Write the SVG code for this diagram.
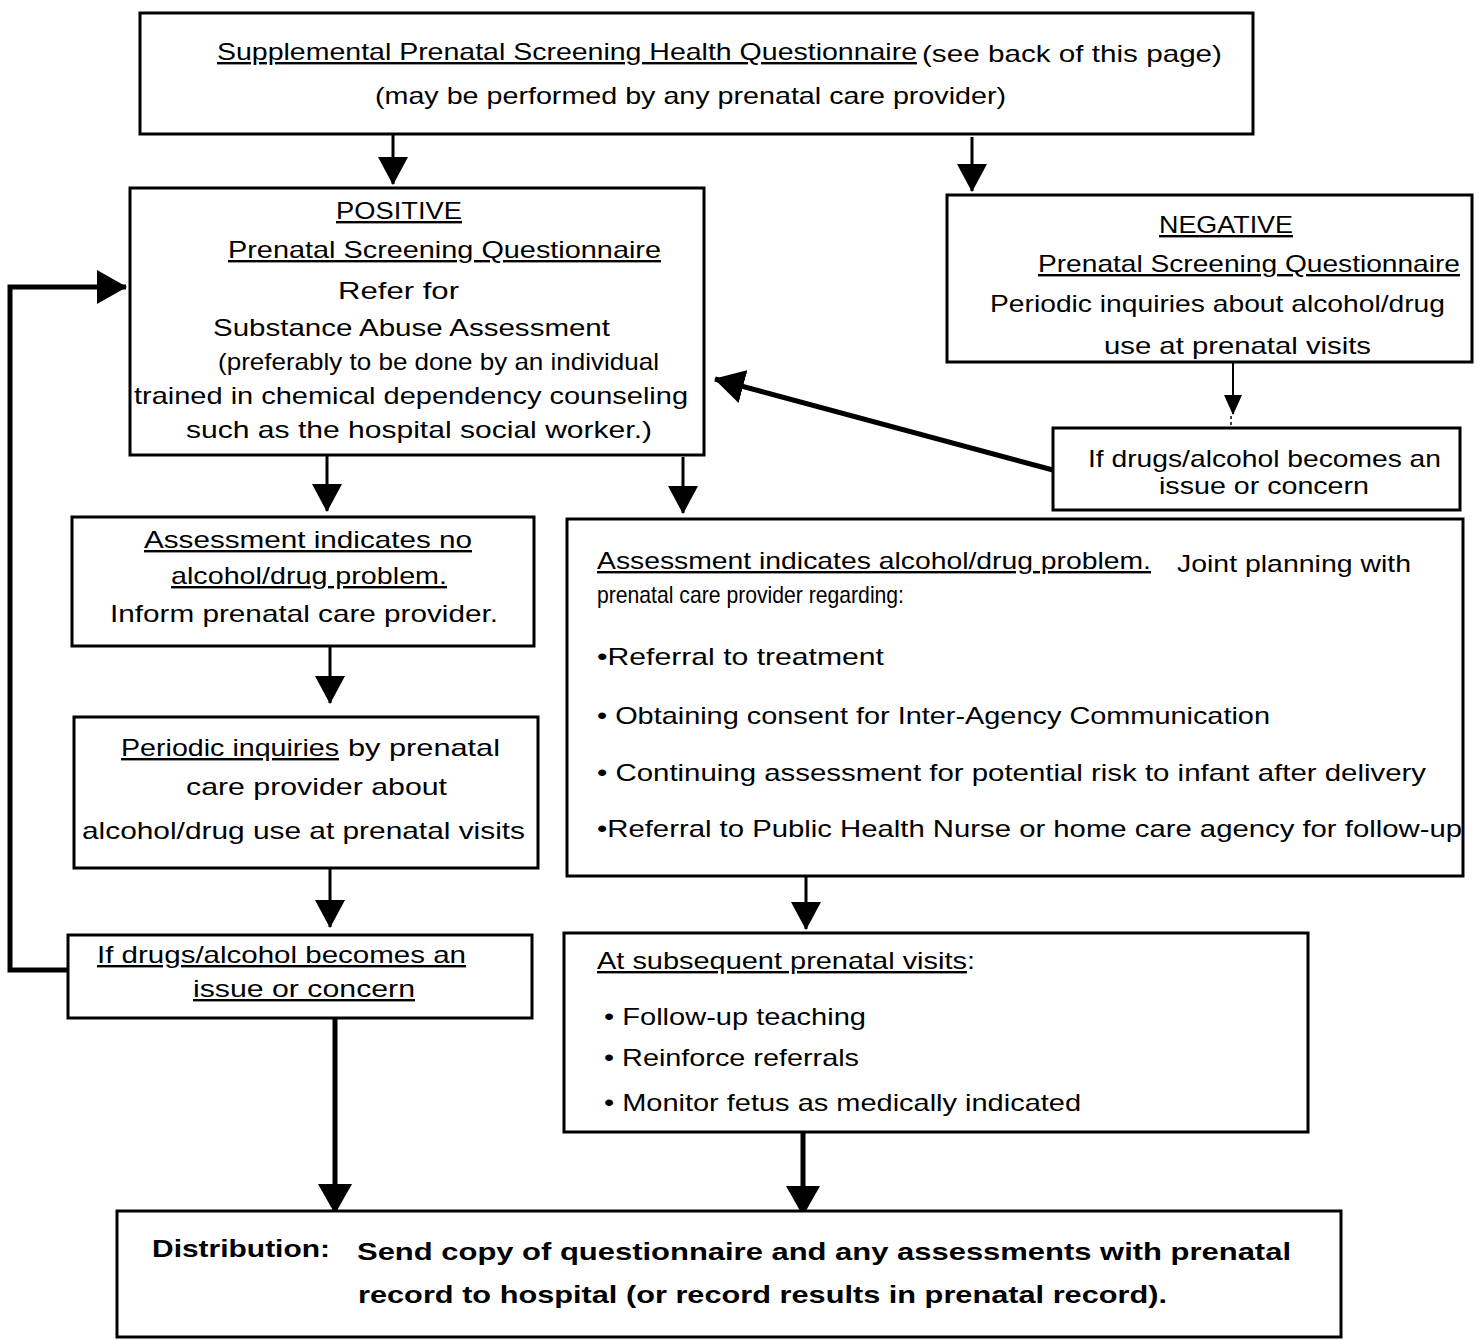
<svg xmlns="http://www.w3.org/2000/svg" width="1481" height="1340" viewBox="0 0 1481 1340">
<defs>
<marker id="ah" viewBox="0 0 28 30" refX="27" refY="15" markerWidth="28" markerHeight="30" markerUnits="userSpaceOnUse" orient="auto"><path d="M0,0 L28,15 L0,30 z" fill="#000"/></marker>
<marker id="ahs" viewBox="0 0 20 18" refX="19" refY="9" markerWidth="20" markerHeight="18" markerUnits="userSpaceOnUse" orient="auto"><path d="M0,0 L20,9 L0,18 z" fill="#000"/></marker>
<marker id="aht" viewBox="0 0 30 34" refX="29" refY="17" markerWidth="30" markerHeight="34" markerUnits="userSpaceOnUse" orient="auto"><path d="M0,0 L30,17 L0,34 z" fill="#000"/></marker>
<style>
.box{fill:#fff;stroke:#000;stroke-width:3}
.t{font-family:"Liberation Sans",Arial,sans-serif;font-size:24px;fill:#000}
.u{text-decoration:underline}
.b{font-weight:bold}
.c{stroke:#000;stroke-width:3;fill:none}
.ck{stroke:#000;stroke-width:5;fill:none}
</style>
</defs>
<rect width="1481" height="1340" fill="#fff"/>

<g id="connectors">
<line class="c" x1="393" y1="133" x2="393" y2="184" marker-end="url(#ah)"/>
<line class="c" x1="972" y1="137" x2="972" y2="191" marker-end="url(#ah)"/>
<line class="c" x1="327" y1="456" x2="327" y2="511" marker-end="url(#ah)"/>
<line class="c" x1="683" y1="457" x2="683" y2="513" marker-end="url(#ah)"/>
<line class="c" x1="330" y1="647" x2="330" y2="703" marker-end="url(#ah)"/>
<line class="c" x1="330" y1="869" x2="330" y2="927" marker-end="url(#ah)"/>
<line class="c" x1="806" y1="877" x2="806" y2="929" marker-end="url(#ah)"/>
<line class="ck" x1="335" y1="1019" x2="335" y2="1213" marker-end="url(#aht)"/>
<line class="ck" x1="803" y1="1133" x2="803" y2="1215" marker-end="url(#aht)"/>
<polyline class="ck" points="68,970 10,970 10,287 126,287" marker-end="url(#aht)"/>
<line class="ck" x1="1053" y1="470" x2="715" y2="379" marker-end="url(#aht)"/>
<line x1="1233" y1="363" x2="1233" y2="414" stroke="#000" stroke-width="2" marker-end="url(#ahs)"/>
<line x1="1231" y1="416" x2="1231" y2="426" stroke="#000" stroke-width="1.5" stroke-dasharray="3,3"/>
</g>

<g id="n-top">
<rect class="box" x="140" y="13" width="1113" height="121"/>
<text class="t u" x="217" y="60" textLength="700" lengthAdjust="spacingAndGlyphs">Supplemental Prenatal Screening Health Questionnaire</text>
<text class="t" x="922" y="62" textLength="300" lengthAdjust="spacingAndGlyphs">(see back of this page)</text>
<text class="t" x="375" y="104" textLength="631" lengthAdjust="spacingAndGlyphs">(may be performed by any prenatal care provider)</text>
</g>

<g id="n-positive">
<rect class="box" x="130" y="188" width="574" height="267"/>
<text class="t u" x="336" y="219" textLength="126" lengthAdjust="spacingAndGlyphs">POSITIVE</text>
<text class="t u" x="228" y="258" textLength="433" lengthAdjust="spacingAndGlyphs">Prenatal Screening Questionnaire</text>
<text class="t" x="338" y="299" textLength="121" lengthAdjust="spacingAndGlyphs">Refer for</text>
<text class="t" x="213" y="336" textLength="397" lengthAdjust="spacingAndGlyphs">Substance Abuse Assessment</text>
<text class="t" x="218" y="370" textLength="441" lengthAdjust="spacingAndGlyphs">(preferably to be done by an individual</text>
<text class="t" x="134" y="404" textLength="554" lengthAdjust="spacingAndGlyphs">trained in chemical dependency counseling</text>
<text class="t" x="186" y="438" textLength="466" lengthAdjust="spacingAndGlyphs">such as the hospital social worker.)</text>
</g>

<g id="n-negative">
<rect class="box" x="947" y="195" width="525" height="167"/>
<text class="t u" x="1159" y="233" textLength="134" lengthAdjust="spacingAndGlyphs">NEGATIVE</text>
<text class="t u" x="1038" y="272" textLength="422" lengthAdjust="spacingAndGlyphs">Prenatal Screening Questionnaire</text>
<text class="t" x="990" y="312" textLength="455" lengthAdjust="spacingAndGlyphs">Periodic inquiries about alcohol/drug</text>
<text class="t" x="1104" y="354" textLength="267" lengthAdjust="spacingAndGlyphs">use at prenatal visits</text>
</g>

<g id="n-concern-right">
<rect class="box" x="1053" y="428" width="407" height="82"/>
<text class="t" x="1088" y="467" textLength="353" lengthAdjust="spacingAndGlyphs">If drugs/alcohol becomes an</text>
<text class="t" x="1159" y="494" textLength="210" lengthAdjust="spacingAndGlyphs">issue or concern</text>
</g>

<g id="n-noproblem">
<rect class="box" x="72" y="517" width="462" height="129"/>
<text class="t u" x="144" y="548" textLength="328" lengthAdjust="spacingAndGlyphs">Assessment indicates no</text>
<text class="t u" x="171" y="584" textLength="276" lengthAdjust="spacingAndGlyphs">alcohol/drug problem.</text>
<text class="t" x="110" y="622" textLength="388" lengthAdjust="spacingAndGlyphs">Inform prenatal care provider.</text>
</g>

<g id="n-problem">
<rect class="box" x="567" y="519" width="896" height="357"/>
<text class="t u" x="597" y="569" textLength="554" lengthAdjust="spacingAndGlyphs">Assessment indicates alcohol/drug problem.</text>
<text class="t" x="1177" y="572" textLength="234" lengthAdjust="spacingAndGlyphs">Joint planning with</text>
<text class="t" x="597" y="603" textLength="307" lengthAdjust="spacingAndGlyphs">prenatal care provider regarding:</text>
<text class="t" x="597" y="665" textLength="287" lengthAdjust="spacingAndGlyphs">•Referral to treatment</text>
<text class="t" x="597" y="724" textLength="673" lengthAdjust="spacingAndGlyphs">• Obtaining consent for Inter-Agency Communication</text>
<text class="t" x="597" y="781" textLength="829" lengthAdjust="spacingAndGlyphs">• Continuing assessment for potential risk to infant after delivery</text>
<text class="t" x="597" y="837" textLength="865" lengthAdjust="spacingAndGlyphs">•Referral to Public Health Nurse or home care agency for follow-up</text>
</g>

<g id="n-periodic">
<rect class="box" x="74" y="717" width="464" height="151"/>
<text class="t u" x="121" y="756" textLength="218" lengthAdjust="spacingAndGlyphs">Periodic inquiries</text>
<text class="t" x="348" y="756" textLength="152" lengthAdjust="spacingAndGlyphs">by prenatal</text>
<text class="t" x="186" y="795" textLength="261" lengthAdjust="spacingAndGlyphs">care provider about</text>
<text class="t" x="82" y="839" textLength="443" lengthAdjust="spacingAndGlyphs">alcohol/drug use at prenatal visits</text>
</g>

<g id="n-concern-left">
<rect class="box" x="68" y="935" width="464" height="83"/>
<text class="t u" x="97" y="963" textLength="369" lengthAdjust="spacingAndGlyphs">If drugs/alcohol becomes an</text>
<text class="t u" x="193" y="997" textLength="222" lengthAdjust="spacingAndGlyphs">issue or concern</text>
</g>

<g id="n-subsequent">
<rect class="box" x="564" y="933" width="744" height="199"/>
<text class="t" x="597" y="969" textLength="378" lengthAdjust="spacingAndGlyphs"><tspan class="u">At subsequent prenatal visits</tspan>:</text>
<text class="t" x="604" y="1025" textLength="262" lengthAdjust="spacingAndGlyphs">• Follow-up teaching</text>
<text class="t" x="604" y="1066" textLength="255" lengthAdjust="spacingAndGlyphs">• Reinforce referrals</text>
<text class="t" x="604" y="1111" textLength="477" lengthAdjust="spacingAndGlyphs">• Monitor fetus as medically indicated</text>
</g>

<g id="n-distribution">
<rect class="box" x="117" y="1211" width="1224" height="126"/>
<text class="t b" x="152" y="1257" textLength="178" lengthAdjust="spacingAndGlyphs">Distribution:</text>
<text class="t b" x="357" y="1260" textLength="934" lengthAdjust="spacingAndGlyphs">Send copy of questionnaire and any assessments with prenatal</text>
<text class="t b" x="358" y="1303" textLength="809" lengthAdjust="spacingAndGlyphs">record to hospital (or record results in prenatal record).</text>
</g>
</svg>
